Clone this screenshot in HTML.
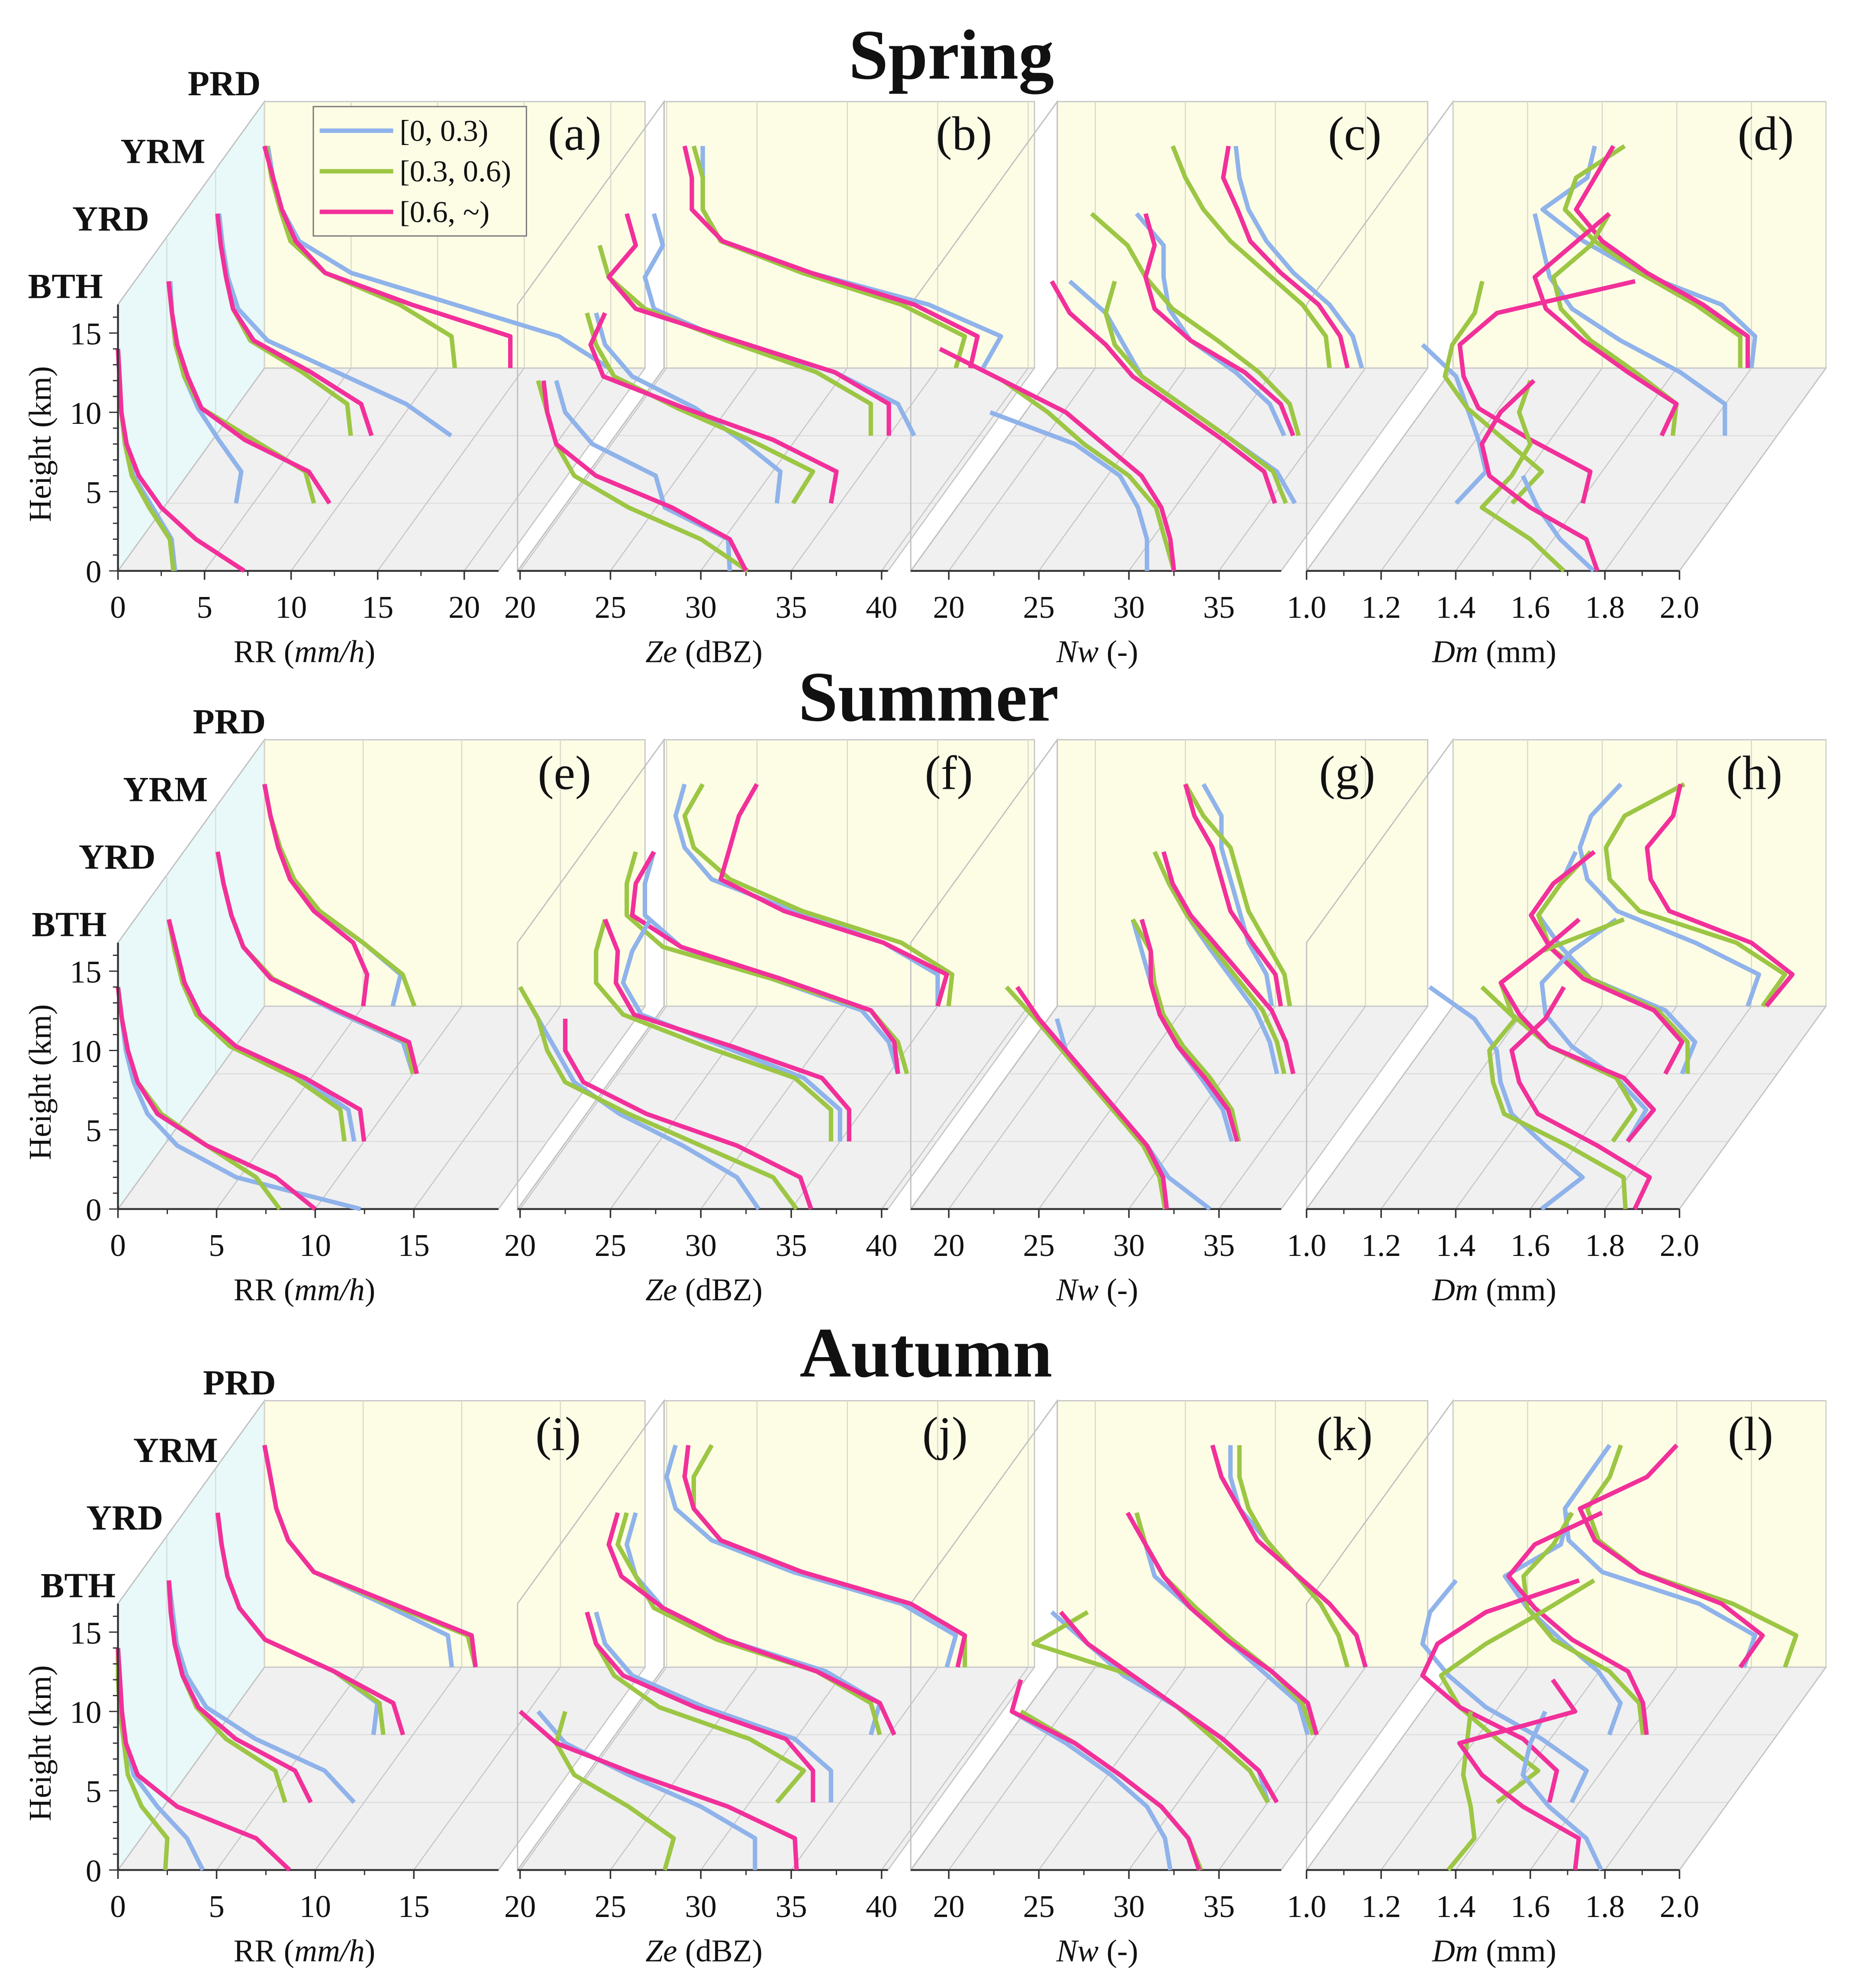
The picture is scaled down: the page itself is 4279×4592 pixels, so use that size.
<!DOCTYPE html>
<html><head><meta charset="utf-8"><style>
html,body{margin:0;padding:0;background:#fff;}
svg{display:block;}
text{font-family:"Liberation Serif",serif;fill:#111;}
</style></head><body>
<svg id="chart" xmlns="http://www.w3.org/2000/svg" width="4279" height="4592" viewBox="0 0 1460 1567" preserveAspectRatio="none">
</svg>
<script>
// ---- data ----
const heights = [0,2,4,6,8,10,12,14];
const regions = ['BTH','YRD','YRM','PRD'];
const seriesNames = ['[0, 0.3)','[0.3, 0.6)','[0.6, ~)'];
const seasons = ['Spring','Summer','Autumn'];
const rrTicksSpring = [0,5,10,15,20];
const rrTicks = [0,5,10,15];
const zeTicks = [20,25,30,35,40];
const nwTicks = [20,25,30,35];
const dmTicks = [1.0,1.2,1.4,1.6,1.8,2.0];
const heightTicks = [0,5,10,15];
// per panel: [region][series: blue, green, pink][height index]
const panelA = [
 [[3.3,3.1,2,0.9,0.4,0.2,0.1,0],[3.2,3,1.8,0.8,0.4,0.2,0.1,0],[7.3,4.5,2.5,1.2,0.5,0.2,0.1,0]],
 [[4,4.3,3,1.8,1,0.6,0.3,0.2],[8.5,8,5,2,1,0.5,0.3,0.1],[9.4,8.2,4.5,2,1.2,0.6,0.3,0.1]],
 [[13.6,11,7,3,1.3,0.7,0.4,0.2],[7.8,7.6,5,2,1,0.6,0.3,0.1],[9,8.4,5.5,2.2,1,0.6,0.3,0.1]],
 [[19.9,17,11,5,2,1,0.5,0.2],[11,10.8,7.8,3.5,1.5,0.9,0.4,0.1],[14.2,14.2,8.5,3.5,1.8,1,0.5,0]]];
const panelB = [
 [[31.6,31.5,28,27.5,24,22.5,22,null],[32.6,30,26,23,22,21.5,21,null],[32.5,31.6,28.4,24.2,22,21.5,21.3,null]],
 [[31.5,31.7,29.5,27,23.5,22,21.5,null],[32.4,33.5,30,26,22.5,21.5,21,null],[34.5,34.8,31.3,26.4,21.9,21.2,22,null]],
 [[36.4,35.5,32,26,22,21.5,22.5,22],[34,34,31,26,21.5,19.5,19,null],[35,35,32,26.5,21,19.5,21,20.5]],
 [[37.5,38.5,34.5,28,23,22,22,22],[36,36.5,33,27.5,23,22,22,21.5],[36.8,37.2,33.7,28,23.1,21.4,21.4,21]]];
const panelC = [
 [[31,31,30.5,29.5,27,22.3,null,null],[32.5,32,31.5,30,27.5,25.5,23,null],[32.5,32.3,31.8,30.7,28.6,26.5,23,19.5]],
 [[36.5,35.5,33,30.5,28,27,26,24],[36,35.3,33,30.5,28,26.5,26,26.5],[35.4,34.8,32.5,30,27.5,26,24,23]],
 [[33.2,32.4,30.5,28,26.8,26.5,26.5,25],[34,33.5,31.8,29.5,27,25.5,24.5,22.5],[33.7,33,31,28,26,25.5,26,25.5]],
 [[34.8,34.3,33,31,29.5,28.5,28,27.8],[33,32.8,31.5,29.5,27.5,26,25,24.3],[34,33.6,32.4,30.3,28.6,27.9,27.1,27.4]]];
const panelD = [
 [[1.77,1.68,1.62,1.58,null,null,null,null],[1.69,1.6,1.47,1.55,1.6,1.57,1.6,null],[1.78,1.75,1.6,1.49,1.47,1.52,1.61,null]],
 [[1.27,1.35,1.33,1.3,1.27,1.18,null,null],[1.42,1.5,1.4,1.3,1.24,1.26,1.32,1.34],[1.61,1.63,1.47,1.33,1.29,1.28,1.38,1.75]],
 [[1.86,1.86,1.74,1.58,1.45,1.39,1.37,1.35],[1.72,1.73,1.62,1.5,1.42,1.4,1.5,1.55],[1.69,1.73,1.6,1.48,1.38,1.35,1.45,1.55]],
 [[1.8,1.81,1.72,1.5,1.35,1.24,1.36,1.38],[1.77,1.77,1.65,1.5,1.38,1.3,1.33,1.46],[1.79,1.79,1.67,1.52,1.4,1.33,1.38,1.43]]];
const panelE = [
 [[12.3,6,3,1.5,0.8,0.4,0.2,0],[8.2,7,4.5,2.2,1,0.5,0.2,0],[10,8,4.5,2,1,0.5,0.2,0]],
 [[9.5,9.2,6.8,3.3,1.6,0.9,0.5,0.1],[9,8.8,6.5,3.2,1.5,0.8,0.4,0.1],[10,9.8,7,3.5,1.7,0.9,0.5,0.1]],
 [[10,9.5,6,2.8,1.4,0.8,0.4,0.1],[10,9.7,6.2,2.9,1.4,0.8,0.4,0.1],[10.2,9.8,6.2,2.8,1.4,0.8,0.4,0.1]],
 [[6.5,6.9,5,2.7,1.3,0.7,0.3,0],[7.6,7,5,2.8,1.5,0.8,0.3,0],[5,5.2,4.5,2.5,1.3,0.7,0.3,0]]];
const panelF = [
 [[33.2,32,29,25.5,23,22,21,20],[35.3,34,30,26,22.5,21.5,21,20],[36.1,35.5,32,27,23.5,22.5,22.5,null]],
 [[35,35,33,28.5,24,23,23.5,24.5],[34.5,34.5,32.5,27.5,23,21.5,21.5,22],[35.5,35.5,34,29,23.6,22.6,22.7,22]],
 [[35.5,35,33.5,28.5,23.5,21.5,21.5,22],[36,35.5,34,28.5,22.5,20.5,20.5,21],[35.5,35.3,34,29,23.5,20.8,21,22]],
 [[35,35,32,27,22.5,21,20.5,21],[35.6,35.8,33,27.5,23.5,21.5,21,22],[35,35.5,32,26.5,23,23.5,24,25]]];
const panelG = [
 [[34.5,32.2,31,29.5,28,26.5,26,null],[32,31.7,30.8,29.3,27.8,26.3,24.8,23.2],[32.1,31.9,31,29.5,28,26.5,25,23.8]],
 [[33,32.5,31.3,30,29,28.5,28,27.5],[33.4,33,31.8,30.3,29.2,28.7,28.5,27.5],[33.3,32.8,31.5,30,29,28.5,28.5,28]],
 [[32.8,32.4,31.6,30.3,29,27.8,27,26.5],[33.2,32.8,32,30.6,29.2,27.8,26.8,26],[33.7,33.3,32.5,31,29.5,28,27,26.5]],
 [[29.8,29.5,28.5,28,27.5,27,27,26],[30.8,30.5,29.5,28.5,28,27.5,26,25],[30.3,30,28.7,27.5,27,26.5,25.5,25]]];
const panelH = [
 [[1.63,1.74,1.64,1.55,1.52,1.51,1.45,1.33],[1.855,1.85,1.7,1.53,1.5,1.49,1.56,1.47],[1.88,1.92,1.78,1.62,1.57,1.55,1.64,1.69]],
 [[1.73,1.78,1.7,1.58,1.51,1.5,1.58,1.7],[1.69,1.75,1.7,1.52,1.42,1.39,1.5,1.72],[1.73,1.8,1.72,1.52,1.44,1.39,1.5,1.6]],
 [[1.745,1.78,1.7,1.5,1.42,1.36,1.42,1.46],[1.76,1.76,1.68,1.5,1.39,1.36,1.42,1.5],[1.7,1.745,1.67,1.48,1.39,1.34,1.4,1.51]],
 [[1.79,1.82,1.65,1.44,1.36,1.34,1.37,1.45],[1.83,1.89,1.76,1.5,1.42,1.41,1.46,1.62],[1.84,1.91,1.8,1.58,1.53,1.52,1.59,1.61]]];
const panelI = [
 [[4.3,3.5,2,0.8,0.4,0.2,0.1,0],[2.4,2.5,1.2,0.5,0.3,0.1,0,0],[8.7,7,3,1,0.4,0.2,0.1,0]],
 [[9.5,8,4.5,2,1,0.5,0.3,0.1],[6,5.5,3,1.5,0.8,0.4,0.2,0.1],[7.3,6.5,3.5,1.6,0.8,0.4,0.2,0.1]],
 [[8,8.2,6,2.5,1.2,0.6,0.3,0.1],[8.5,8.3,6,2.5,1.2,0.6,0.3,0.1],[9.5,9,6,2.5,1.2,0.6,0.3,0.1]],
 [[9.5,9.3,6,2.5,1.2,0.6,0.3,0],[10.7,10.3,6.3,2.5,1.2,0.6,0.3,0],[10.7,10.5,6.5,2.5,1.2,0.6,0.3,0]]];
const panelJ = [
 [[33,33,30,26,22.5,21,null,null],[28,28.5,26,23,22,22.5,null,null],[35.3,35.2,31.5,26.5,22,20,null,null]],
 [[34.5,34.5,32.5,27.5,23.5,22,21.5,null],[31.5,33,30,25,22.5,21.5,21,null],[33.5,33.5,32,27,23,21.5,21,null]],
 [[34,34.5,31.5,26,22.5,21,20.5,21],[34.5,34,31,25.5,22,21,20,20.5],[35.3,34.5,31,26,22.5,20.2,19.5,20]],
 [[35.5,36,33,27,22.5,20.5,20,20.5],[36.5,36.5,33.5,27.5,23,21.5,21.5,22.5],[36.1,36.5,33.5,27.5,23,21.5,21,21.2]]];
const panelK = [
 [[32.3,32,31,29,26.5,23.5,null,null],[34,33.3,31.8,29.5,27,24,null,null],[33.9,33.3,31.8,29.5,27,23.5,24,null]],
 [[35,34.5,32.5,30,27,25,23,null],[35,34,32,30,27.5,22,25,null],[35.5,34.5,32.5,30,27.5,25,23.5,null]],
 [[34.5,34,32,30,28,26,25.5,25],[34.8,34.2,32.5,30.3,28.3,26.5,25.5,25],[35,34.5,32.5,30,28,26.5,25.5,24.5]],
 [[34,33.5,32.5,31,29.5,28,27.5,27.5],[34,33.5,32.5,31,29.5,28.5,28,28],[35,34.5,33,31,29,28,27,26.5]]];
const panelL = [
 [[1.79,1.75,1.65,1.58,1.6,1.64,null,null],[1.38,1.45,1.44,1.42,1.43,1.44,null,null],[1.72,1.73,1.58,1.47,1.41,1.72,1.66,null]],
 [[1.58,1.62,1.5,1.35,1.25,1.18,1.2,1.27],[1.38,1.49,1.38,1.28,1.23,1.35,1.5,1.64],[1.52,1.54,1.45,1.28,1.18,1.22,1.35,1.6]],
 [[1.55,1.58,1.52,1.42,1.33,1.27,1.42,1.44],[1.64,1.63,1.55,1.4,1.33,1.32,1.4,1.45],[1.65,1.64,1.6,1.45,1.35,1.28,1.35,1.53]],
 [[1.78,1.81,1.66,1.4,1.31,1.3,1.36,1.42],[1.89,1.92,1.75,1.5,1.39,1.36,1.42,1.45],[1.77,1.83,1.72,1.5,1.38,1.34,1.52,1.6]]];

// ---- layout ----
const NS='http://www.w3.org/2000/svg';
const svg=document.getElementById('chart');
const colors=['#8fb3ea','#9cc644','#f2309a'];
const DX=38.5, DY=53.3, KM=12.5;
const baseY=[450,953,1474];
function mk(tag,attrs,parent){const e=document.createElementNS(NS,tag);for(const k in attrs)e.setAttribute(k,attrs[k]);(parent||svg).appendChild(e);return e;}
function txt(s,x,y,size,opts,parent){const t=mk('text',Object.assign({x:x,y:y,'font-size':size},opts||{}),parent);t.textContent=s;return t;}

const cols=[
 {name:'rr',xLeft:93,vmin:0,W:300,label:['RR (','mm/h',')'],labelX:240},
 {name:'ze',xLeft:408,vmin:19.86,W:292,pxPer:14.25,ticks:zeTicks,label:['','Ze',' (dBZ)'],labelX:555},
 {name:'nw',xLeft:718,vmin:17.89,W:292,pxPer:14.2,ticks:nwTicks,label:['','Nw',' (-)'],labelX:865},
 {name:'dm',xLeft:1030,vmin:1.0,W:294,pxPer:294,ticks:dmTicks,label:['','Dm',' (mm)'],labelX:1178,dec:1}];
const panelData=[[panelA,panelB,panelC,panelD],[panelE,panelF,panelG,panelH],[panelI,panelJ,panelK,panelL]];
const letters=[['(a)','(b)','(c)','(d)'],['(e)','(f)','(g)','(h)'],['(i)','(j)','(k)','(l)']];
const letterX=[[453,760,1068,1392],[445,748,1062,1383],[440,745,1060,1380]];
const letterY=[118,622,1143];
const titleXY=[[750,62],[732,568],[730,1085]];
const regionLabelX=[[22,57,95,148],[25,62,97,152],[32,68,105,160]];

const bgLayer=mk('g',{});


const lineLayer=mk('g',{});


const textLayer=mk('g',{});



function geom(r,c){
  const col=cols[c];
  return {col:col,x0:col.xLeft,W:col.W,pxPer:c===0?(r===0?13.65:15.55):col.pxPer,ticks:c===0?(r===0?rrTicksSpring:rrTicks):col.ticks,base:baseY[r]};
}

for(let r=0;r<3;r++){
  const base=baseY[r];
  const tt=txt(seasons[r],titleXY[r][0],titleXY[r][1],56,{'font-weight':'bold','text-anchor':'middle'},textLayer);
  
  
  for(let c=0;c<4;c++){
    const G=geom(r,c), col=G.col, x0=G.x0, W=G.W, pxPer=G.pxPer;
    const g=mk('g',{},bgLayer);
    
    
    const bx=x0+3*DX, by=base-3*DY;
    const fl=mk('polygon',{points:`${x0},${base} ${x0+W},${base} ${bx+W},${by} ${bx},${by}`,fill:'#f0f0f0',stroke:'#c8c8c8','stroke-width':1},g);
    
    
    const bw=mk('rect',{x:bx,y:by-210,width:W,height:210,fill:'#fdfde6',stroke:'#c8c8c8','stroke-width':1},g);
    
    
    const lw=mk('polygon',{points:`${x0},${base} ${bx},${by} ${bx},${by-210} ${x0},${base-210}`,fill:c===0?'#e9f8f8':'none',stroke:'#c0c0c0','stroke-width':1},g);
    
    
    for(let k=1;k<3;k++){
      mk('line',{x1:x0+k*DX,y1:base-k*DY,x2:x0+k*DX+W,y2:base-k*DY,stroke:'#dcdcdc','stroke-width':0.8},g);
      if(c===0) mk('line',{x1:x0+k*DX,y1:base-k*DY,x2:x0+k*DX,y2:base-k*DY-210,stroke:'#cfdcdc','stroke-width':0.8},g);
    }
    G.ticks.forEach((v,i)=>{
      const tx=x0+(v-col.vmin)*pxPer;
      mk('line',{x1:tx,y1:base,x2:tx+3*DX,y2:by,stroke:'#c4c4c4','stroke-width':0.8},g);
      mk('line',{x1:tx+3*DX,y1:by,x2:tx+3*DX,y2:by-210,stroke:'#d6d6c8','stroke-width':0.8},g);
      mk('line',{x1:tx,y1:base,x2:tx,y2:base+7,stroke:'#333','stroke-width':1.2},g);
      if(i<G.ticks.length-1){
        const step=G.ticks[1]-G.ticks[0];
        const mx=x0+(v+step/2-col.vmin)*pxPer;
        mk('line',{x1:mx,y1:base,x2:mx,y2:base+4,stroke:'#333','stroke-width':1},g);
      }
      const tl=txt(col.dec?v.toFixed(1):String(v),tx,base+37,25,{'text-anchor':'middle'},textLayer);
      
      
    });
    const ax=mk('line',{x1:x0,y1:base,x2:x0+W,y2:base,stroke:'#333','stroke-width':1.5},g);
    
    
    const at=mk('text',{x:col.labelX,y:base+72,'font-size':25,'text-anchor':'middle'},textLayer);
    
    
    const s1=mk('tspan',{},at);s1.textContent=col.label[0];
    const s2=mk('tspan',{'font-style':'italic'},at);s2.textContent=col.label[1];
    const s3=mk('tspan',{},at);s3.textContent=col.label[2];
    // series
    const data=panelData[r][c];
    for(let k=3;k>=0;k--){
      for(let s=0;s<3;s++){
        const vals=data[k][s];
        let pts=[];
        vals.forEach((v,i)=>{ if(v!==null){ pts.push((x0+(v-col.vmin)*pxPer+k*DX).toFixed(1)+','+(base-k*DY-heights[i]*KM).toFixed(1)); }});
        const pl=mk('polyline',{points:pts.join(' '),fill:'none',stroke:colors[s],'stroke-width':3.5,'stroke-linejoin':'round'},lineLayer);
        
        
      }
    }
    const lt=txt(letters[r][c],letterX[r][c],letterY[r],38,{'text-anchor':'middle'},textLayer);
    
    
  }
  const ha=mk('line',{x1:93,y1:base,x2:93,y2:base-210,stroke:'#333','stroke-width':1.5},textLayer);
  
  
  for(let h=0;h<=16;h++){
    const y=base-h*KM;
    mk('line',{x1:h%5===0?86:89,y1:y,x2:93,y2:y,stroke:'#333','stroke-width':1},textLayer);
  }
  heightTicks.forEach(h=>{
    const y=base-h*KM;
    const hl=txt(String(h),80,y+9,25,{'text-anchor':'end'},textLayer);
    
    
  });
  const ht=mk('text',{x:0,y:0,'font-size':25,'text-anchor':'middle',transform:`translate(40,${base-100}) rotate(-90)`},textLayer);
  ht.textContent='Height (km)';
  
  
  for(let k=0;k<4;k++){
    const rl=txt(regions[k],regionLabelX[r][k],base-215-k*DY,28,{'font-weight':'bold'},textLayer);
    
    
  }
}
// legend
const lg=mk('g',{});


mk('rect',{x:247,y:84,width:168,height:102,fill:'#fdfde6',stroke:'#777','stroke-width':1},lg);
seriesNames.forEach((n,i)=>{
  const y=103+i*32;
  const ln=mk('line',{x1:252,y1:y,x2:310,y2:y,stroke:colors[i],'stroke-width':3.5},lg);
  
  
  const t=txt(n,315,y+8,24,{},lg);
  
  
});
</script>
</body></html>
